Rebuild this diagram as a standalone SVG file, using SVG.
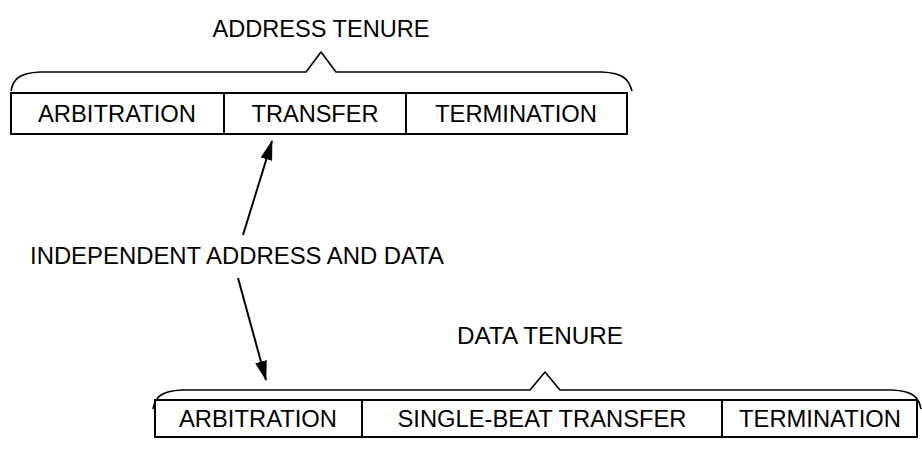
<svg xmlns="http://www.w3.org/2000/svg" width="922" height="460" viewBox="0 0 922 460">
<style>
text{font-family:"Liberation Sans",Arial,sans-serif;font-size:23.5px;fill:#000;text-anchor:middle}
.box{fill:#fff;stroke:#000;stroke-width:2}
.div{stroke:#000;stroke-width:2}
.brace{fill:none;stroke:#000;stroke-width:1.6;stroke-linejoin:round}
.arrow{stroke:#000;stroke-width:2;fill:none;marker-end:url(#ah)}
</style>
<defs>
<marker id="ah" viewBox="0 0 20 12" refX="19" refY="6" markerWidth="20" markerHeight="12" markerUnits="userSpaceOnUse" orient="auto">
<path d="M0,0 L20,6 L0,12 Z" fill="#000"/>
</marker>
</defs>
<g id="address-tenure">
<text x="321" y="37" textLength="217" lengthAdjust="spacingAndGlyphs">ADDRESS TENURE</text>
<path class="brace" d="M11,91 C13,80 18,73 40,72 L306,72 L321,52 L336,72 L602,72 C624,73 629,80 632,91"/>
<rect class="box" x="11" y="93" width="616" height="41"/>
<line class="div" x1="224" y1="93" x2="224" y2="134"/>
<line class="div" x1="406" y1="93" x2="406" y2="134"/>
<text x="117" y="122" textLength="158" lengthAdjust="spacingAndGlyphs">ARBITRATION</text>
<text x="315" y="122" textLength="127" lengthAdjust="spacingAndGlyphs">TRANSFER</text>
<text x="516" y="122" textLength="162" lengthAdjust="spacingAndGlyphs">TERMINATION</text>
</g>
<g id="independent-label">
<text x="237" y="264" textLength="414" lengthAdjust="spacingAndGlyphs">INDEPENDENT ADDRESS AND DATA</text>
</g>
<g id="data-tenure">
<text x="540" y="344" textLength="166" lengthAdjust="spacingAndGlyphs">DATA TENURE</text>
<path class="brace" d="M153,409 C155,398 160,391 182,390 L530,390 L545,372 L560,390 L892,390 C914,391 919,398 921,409"/>
<rect class="box" x="155" y="400" width="762" height="37"/>
<line class="div" x1="362" y1="400" x2="362" y2="437"/>
<line class="div" x1="722" y1="400" x2="722" y2="437"/>
<text x="258" y="427" textLength="158" lengthAdjust="spacingAndGlyphs">ARBITRATION</text>
<text x="542" y="427" textLength="289" lengthAdjust="spacingAndGlyphs">SINGLE-BEAT TRANSFER</text>
<text x="820" y="427" textLength="162" lengthAdjust="spacingAndGlyphs">TERMINATION</text>
</g>
<g id="connectors">
<line class="arrow" x1="243" y1="235" x2="272" y2="141"/>
<line class="arrow" x1="238" y1="278" x2="266" y2="380"/>
</g>
</svg>
